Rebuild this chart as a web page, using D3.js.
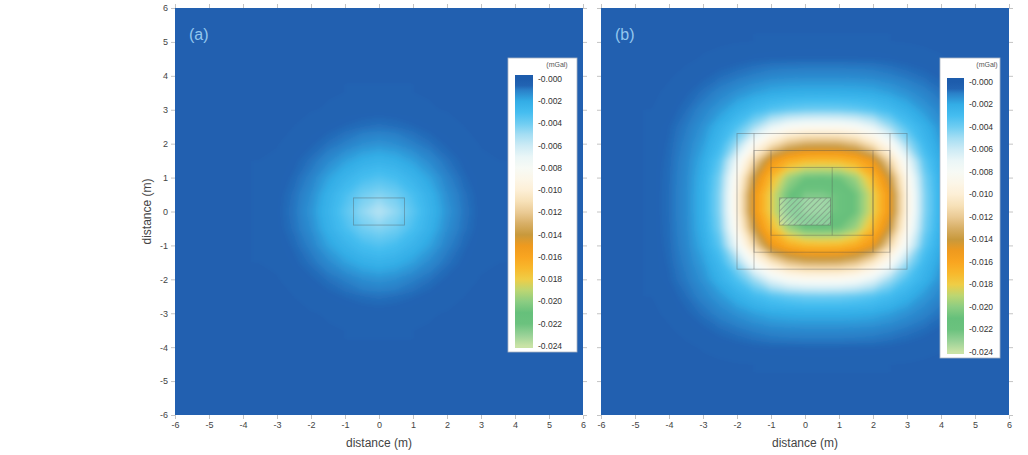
<!DOCTYPE html>
<html>
<head>
<meta charset="utf-8">
<script src="https://cdn.jsdelivr.net/npm/d3@7"></script>
<style>
body { margin: 0; background: #fff; }
svg { display: block; font-family: "Liberation Sans", Arial, sans-serif; }
</style>
</head>
<body>
<script>
window.onload = function(){

// anomaly magnitude, in 0.001 mGal (values are negative: 5.4 means -0.0054 mGal)
// sampled every 0.5 m, rows from top (largest y) to bottom
let step = 0.5;

// panel (a): x from -3.5 to 3.5, y from 3.5 to -3.5
let gridAOrigin = [-3.5, 3.5];
let gridA = [
 [0.40,0.41,0.42,0.43,0.44,0.45,0.46,0.46,0.46,0.45,0.44,0.43,0.42,0.41,0.40],
 [0.41,0.42,0.43,0.44,0.46,0.48,0.50,0.52,0.50,0.48,0.46,0.44,0.43,0.42,0.41],
 [0.42,0.42,0.45,0.50,0.56,0.66,0.75,0.80,0.75,0.66,0.56,0.50,0.45,0.42,0.42],
 [0.44,0.44,0.50,0.60,0.78,1.00,1.28,1.40,1.28,1.00,0.78,0.60,0.50,0.44,0.44],
 [0.45,0.47,0.58,0.80,1.20,1.70,2.10,2.30,2.10,1.70,1.20,0.80,0.58,0.47,0.45],
 [0.46,0.50,0.68,1.05,1.75,2.40,3.00,3.30,3.00,2.40,1.75,1.05,0.68,0.50,0.46],
 [0.47,0.53,0.80,1.30,2.20,3.10,4.00,4.40,4.00,3.10,2.20,1.30,0.80,0.53,0.47],
 [0.47,0.55,0.85,1.45,2.40,3.50,4.60,5.40,4.60,3.50,2.40,1.45,0.85,0.55,0.47],
 [0.47,0.53,0.80,1.30,2.20,3.10,4.00,4.40,4.00,3.10,2.20,1.30,0.80,0.53,0.47],
 [0.46,0.50,0.68,1.05,1.75,2.40,3.00,3.30,3.00,2.40,1.75,1.05,0.68,0.50,0.46],
 [0.45,0.47,0.58,0.80,1.20,1.70,2.10,2.30,2.10,1.70,1.20,0.80,0.58,0.47,0.45],
 [0.44,0.44,0.50,0.60,0.78,1.00,1.28,1.40,1.28,1.00,0.78,0.60,0.50,0.44,0.44],
 [0.42,0.42,0.45,0.50,0.56,0.66,0.75,0.80,0.75,0.66,0.56,0.50,0.45,0.42,0.42],
 [0.41,0.42,0.43,0.44,0.46,0.48,0.50,0.52,0.50,0.48,0.46,0.44,0.43,0.42,0.41],
 [0.40,0.41,0.42,0.43,0.44,0.45,0.46,0.46,0.46,0.45,0.44,0.43,0.42,0.41,0.40]
];

// panel (b): x from -4.5 to 5.5, y from 5 to -4.5
let gridBOrigin = [-4.5, 5];
let gridB = [
 [0.38,0.39,0.40,0.42,0.43,0.44,0.45,0.46,0.47,0.47,0.47,0.47,0.47,0.46,0.45,0.44,0.43,0.42,0.40,0.39,0.38],
 [0.38,0.40,0.42,0.46,0.49,0.54,0.59,0.63,0.64,0.65,0.65,0.65,0.64,0.63,0.59,0.54,0.49,0.46,0.42,0.40,0.38],
 [0.40,0.43,0.49,0.58,0.72,0.85,1.00,1.12,1.18,1.20,1.20,1.20,1.18,1.12,1.00,0.85,0.72,0.58,0.49,0.43,0.40],
 [0.42,0.48,0.60,0.80,1.08,1.38,1.70,1.95,2.05,2.10,2.10,2.10,2.05,1.95,1.70,1.38,1.08,0.80,0.60,0.48,0.42],
 [0.45,0.52,0.75,1.10,1.55,2.20,2.85,3.40,3.75,3.95,4.00,3.95,3.75,3.40,2.85,2.20,1.55,1.10,0.75,0.52,0.45],
 [0.47,0.62,0.92,1.40,2.25,3.30,4.90,6.80,7.90,8.35,8.40,8.35,7.90,6.80,4.90,3.30,2.25,1.40,0.92,0.62,0.47],
 [0.48,0.67,1.04,1.67,2.77,4.88,8.14,10.6,12.3,13.0,13.1,13.0,12.3,10.6,8.14,4.88,2.77,1.67,1.04,0.67,0.48],
 [0.49,0.71,1.15,1.99,3.57,7.30,11.4,15.0,16.45,17.1,17.2,17.1,16.45,15.0,11.4,7.30,3.57,1.99,1.15,0.71,0.49],
 [0.50,0.74,1.21,2.19,4.23,8.75,13.8,17.0,19.5,20.7,20.8,20.7,19.5,17.0,13.8,8.75,4.23,2.19,1.21,0.74,0.50],
 [0.50,0.75,1.24,2.28,4.50,9.40,15.0,18.2,20.7,22.5,22.5,22.0,20.7,18.2,15.0,9.40,4.50,2.28,1.24,0.75,0.50],
 [0.50,0.75,1.24,2.28,4.50,9.40,15.0,18.2,20.7,22.5,22.5,22.0,20.7,18.2,15.0,9.40,4.50,2.28,1.24,0.75,0.50],
 [0.50,0.74,1.21,2.19,4.23,8.75,13.8,17.0,19.5,20.7,20.8,20.7,19.5,17.0,13.8,8.75,4.23,2.19,1.21,0.74,0.50],
 [0.49,0.71,1.15,1.99,3.57,7.30,11.4,15.0,16.45,17.1,17.2,17.1,16.45,15.0,11.4,7.30,3.57,1.99,1.15,0.71,0.49],
 [0.48,0.67,1.04,1.67,2.77,4.88,8.14,10.6,12.3,13.0,13.1,13.0,12.3,10.6,8.14,4.88,2.77,1.67,1.04,0.67,0.48],
 [0.47,0.62,0.92,1.40,2.25,3.30,4.90,6.80,7.90,8.35,8.40,8.35,7.90,6.80,4.90,3.30,2.25,1.40,0.92,0.62,0.47],
 [0.45,0.52,0.75,1.10,1.55,2.20,2.85,3.40,3.75,3.95,4.00,3.95,3.75,3.40,2.85,2.20,1.55,1.10,0.75,0.52,0.45],
 [0.42,0.48,0.60,0.80,1.08,1.38,1.70,1.95,2.05,2.10,2.10,2.10,2.05,1.95,1.70,1.38,1.08,0.80,0.60,0.48,0.42],
 [0.40,0.43,0.49,0.58,0.72,0.85,1.00,1.12,1.18,1.20,1.20,1.20,1.18,1.12,1.00,0.85,0.72,0.58,0.49,0.43,0.40],
 [0.38,0.40,0.42,0.46,0.49,0.54,0.59,0.63,0.64,0.65,0.65,0.65,0.64,0.63,0.59,0.54,0.49,0.46,0.42,0.40,0.38],
 [0.38,0.39,0.40,0.42,0.43,0.44,0.45,0.46,0.47,0.47,0.47,0.47,0.47,0.46,0.45,0.44,0.43,0.42,0.40,0.39,0.38]
];

// far field value around the sampled windows
let background = 0.38;

// model outlines, [x1, x2, y1, y2] in m
let bodyA = [[-0.75, 0.75, -0.4, 0.4]];
let framesB = [[-2, 3, -1.7, 2.3], [-1.5, 2.5, -1.2, 1.8], [-1, 2, -0.7, 1.3]];
let linesB = [[-1.5, -1.5, -1.7, 2.3], [2.5, 2.5, -1.7, 2.3], [-1, -1, -1.2, 1.8], [2, 2, -1.2, 1.8], [0.8, 0.8, -0.7, 1.3]];
let hatchB = [[-0.75, 0.75, -0.4, 0.4]];

let axisTicks = [-6, -5, -4, -3, -2, -1, 0, 1, 2, 3, 4, 5, 6];

// colour bar
let legendStops = [0, 0.6, 1, 2, 3, 4, 5, 6, 7, 8, 9, 10, 11, 12, 13, 14, 15, 16, 17, 18, 19, 20, 21, 22, 23, 24];
let legendColors = ["#1d5cac", "#2264b3", "#2a80c8", "#33ade6", "#45bdf0", "#6fcdf2", "#a5def3", "#cdebf5", "#eaf6f7", "#f7faf5",
  "#fcf6e8", "#fdefd6", "#f7e1b8", "#eaca94", "#d8af66", "#c8993c", "#ef9a1e", "#f9a520", "#f8b82c", "#efcd46",
  "#bcd672", "#8ccd82", "#66c07b", "#6bc27e", "#97d196", "#c9e3a6"];
let legendTicks = [0, 2, 4, 6, 8, 10, 12, 14, 16, 18, 20, 22, 24];
let legendLabels = ["-0.000", "-0.002", "-0.004", "-0.006", "-0.008", "-0.010", "-0.012", "-0.014",
  "-0.016", "-0.018", "-0.020", "-0.022", "-0.024"];

let width = 1028, height = 455;

let svg = d3.select("body").append("svg").attr("width", width).attr("height", height);
let defs = svg.append("defs");

let color = d3.scaleLinear().domain(legendStops).range(legendColors).interpolate(d3.interpolateRgb).clamp(true);

let soft = defs.append("filter").attr("id", "soft").attr("x", "-5%").attr("y", "-5%").attr("width", "110%").attr("height", "110%");
soft.append("feGaussianBlur").attr("stdDeviation", 2.2);

let hatch = defs.append("pattern").attr("id", "hatch").attr("patternUnits", "userSpaceOnUse")
  .attr("width", 4).attr("height", 4).attr("patternTransform", "rotate(45)");
hatch.append("rect").attr("width", 4).attr("height", 4).attr("fill", "rgba(255,255,255,0.25)");
hatch.append("line").attr("x1", 0).attr("y1", 0).attr("x2", 0).attr("y2", 4)
  .attr("stroke", "#76857a").attr("stroke-width", 1.1);

let thresholds = d3.range(0.45, 23.5, 0.1);

let y = d3.scaleLinear().domain([-6, 6]).range([415, 8]);

let panels = [
  {id: "a", left: 175, grid: gridA, origin: gridAOrigin, label: "(a)",
   legend: {x: 508, y: 58, w: 69, h: 294, sx: 515, sw: 18, top: 79, bottom: 346, tx: 538, ux: 557}},
  {id: "b", left: 601, grid: gridB, origin: gridBOrigin, label: "(b)",
   legend: {x: 940, y: 58, w: 60, h: 300, sx: 947, sw: 17, top: 82, bottom: 352, tx: 969, ux: 987}}
];

panels.forEach(function(p){
  let x = d3.scaleLinear().domain([-6, 6]).range([p.left, p.left + 408]);

  defs.append("clipPath").attr("id", "clip-" + p.id).append("rect")
    .attr("x", x(-6)).attr("y", y(6)).attr("width", x(6) - x(-6)).attr("height", y(-6) - y(6));

  let field = svg.append("g").attr("clip-path", "url(#clip-" + p.id + ")")
    .append("g").attr("filter", "url(#soft)");

  field.append("rect")
    .attr("x", x(-6) - 20).attr("y", y(6) - 20)
    .attr("width", x(6) - x(-6) + 40).attr("height", y(-6) - y(6) + 40)
    .attr("fill", color(background));

  let ny = p.grid.length, nx = p.grid[0].length;
  let gx0 = p.origin[0], gy0 = p.origin[1];
  let toScreen = d3.geoTransform({
    point: function(gx, gy){
      this.stream.point(x(gx0 + (gx - 0.5) * step), y(gy0 - (gy - 0.5) * step));
    }
  });
  let path = d3.geoPath(toScreen);

  let bands = d3.contours().size([nx, ny]).thresholds(thresholds)(p.grid.flat());

  field.selectAll("path").data(bands).join("path")
    .attr("d", path)
    .attr("fill", d => color(d.value + 0.05));

  // outlines of the model
  let outline = svg.append("g").attr("fill", "none").attr("stroke", "rgba(80,80,80,0.4)").attr("stroke-width", 0.9);
  if (p.id === "a") {
    outline.selectAll("rect").data(bodyA).join("rect")
      .attr("x", d => x(d[0])).attr("y", d => y(d[3]))
      .attr("width", d => x(d[1]) - x(d[0])).attr("height", d => y(d[2]) - y(d[3]));
  } else {
    outline.selectAll("rect.hatch").data(hatchB).join("rect").attr("class", "hatch")
      .attr("x", d => x(d[0])).attr("y", d => y(d[3]))
      .attr("width", d => x(d[1]) - x(d[0])).attr("height", d => y(d[2]) - y(d[3]))
      .attr("fill", "url(#hatch)");
    outline.selectAll("rect.frame").data(framesB).join("rect").attr("class", "frame")
      .attr("x", d => x(d[0])).attr("y", d => y(d[3]))
      .attr("width", d => x(d[1]) - x(d[0])).attr("height", d => y(d[2]) - y(d[3]));
    outline.selectAll("line").data(linesB).join("line")
      .attr("x1", d => x(d[0])).attr("x2", d => x(d[1]))
      .attr("y1", d => y(d[2])).attr("y2", d => y(d[3]));
  }

  // panel letter
  svg.append("text").attr("x", x(-6) + 14).attr("y", 40)
    .attr("fill", "#93c7ef").attr("font-size", 16).text(p.label);

  // axes
  let fmt = d => String(d);
  svg.append("g").attr("transform", "translate(0," + y(-6) + ")")
    .call(d3.axisBottom(x).tickValues(axisTicks).tickSize(4).tickFormat(fmt));
  svg.append("g").attr("transform", "translate(0," + y(6) + ")")
    .call(d3.axisTop(x).tickValues(axisTicks).tickSize(4).tickFormat(""));
  if (p.id === "a") {
    svg.append("g").attr("transform", "translate(" + x(-6) + ",0)")
      .call(d3.axisLeft(y).tickValues(axisTicks).tickSize(4).tickFormat(fmt));
    svg.append("g").attr("transform", "translate(" + x(6) + ",0)")
      .call(d3.axisRight(y).tickValues(axisTicks).tickSize(4).tickFormat(""));
  } else {
    svg.append("g").attr("transform", "translate(" + x(-6) + ",0)")
      .call(d3.axisLeft(y).tickValues(axisTicks).tickSize(4).tickFormat(""));
    svg.append("g").attr("transform", "translate(" + x(6) + ",0)")
      .call(d3.axisRight(y).tickValues(axisTicks).tickSize(4).tickFormat(""));
  }

  svg.append("text").attr("x", (x(-6) + x(6)) / 2).attr("y", 447)
    .attr("text-anchor", "middle").attr("font-size", 12).attr("fill", "#444")
    .text("distance (m)");

  // colour bar
  let L = p.legend;
  let ly = d3.scaleLinear().domain([0, 24]).range([L.top, L.bottom]);
  svg.append("rect").attr("x", L.x).attr("y", L.y).attr("width", L.w).attr("height", L.h)
    .attr("fill", "#fff").attr("stroke", "#aab4c4").attr("stroke-width", 0.8);

  let grad = defs.append("linearGradient").attr("id", "grad-" + p.id)
    .attr("gradientUnits", "userSpaceOnUse")
    .attr("x1", 0).attr("x2", 0).attr("y1", ly(0)).attr("y2", ly(24));
  grad.selectAll("stop").data(legendStops).join("stop")
    .attr("offset", d => d / 24).attr("stop-color", d => color(d));

  svg.append("rect").attr("x", L.sx).attr("y", ly(0) - 4).attr("width", L.sw)
    .attr("height", ly(24) - ly(0) + 6).attr("fill", "url(#grad-" + p.id + ")");

  svg.append("g").selectAll("text").data(legendTicks).join("text")
    .attr("x", L.tx).attr("y", d => ly(d)).attr("dy", "0.35em")
    .attr("font-size", 8.5).attr("fill", "#333")
    .text((d, i) => legendLabels[i]);

  svg.append("text").attr("x", L.ux).attr("y", L.y + 9).attr("text-anchor", "middle")
    .attr("font-size", 7).attr("fill", "#555").text("(mGal)");
});

// axis styling
svg.selectAll(".domain").remove();
svg.selectAll(".tick line").attr("stroke", "#c4c4c4");
svg.selectAll(".tick text").attr("fill", "#444").attr("font-size", 9)
  .attr("font-family", "\"Liberation Sans\", Arial, sans-serif");

svg.append("text")
  .attr("transform", "translate(151," + y(0) + ") rotate(-90)")
  .attr("text-anchor", "middle").attr("font-size", 12).attr("fill", "#444")
  .text("distance (m)");

};
</script>
</body>
</html>
